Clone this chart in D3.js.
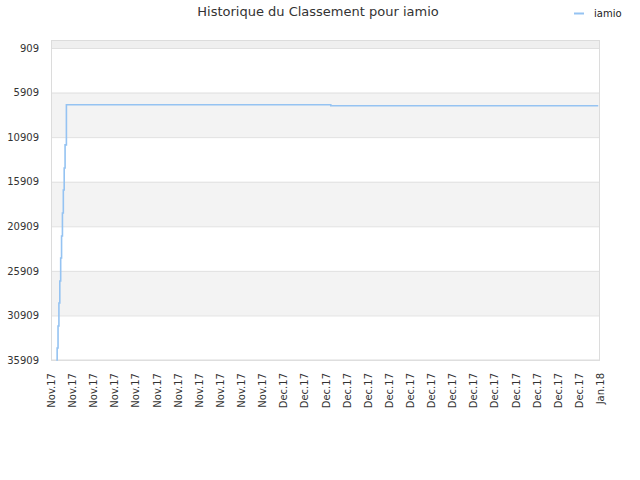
<!DOCTYPE html>
<html>
<head>
<meta charset="utf-8">
<script src="https://cdn.jsdelivr.net/npm/d3@7"></script>
<style>
  body { margin: 0; background: #fff; }
  svg { font-family: "DejaVu Sans", sans-serif; }
</style>
</head>
<body>
<div id="chart"></div>
<script>
// rank history for iamio (lower = better)
const times = [
  "2017-11-10T12:00", "2017-11-10T14:00", "2017-11-10T16:00", "2017-11-10T18:00",
  "2017-11-10T20:00", "2017-11-10T22:00", "2017-11-11T00:00", "2017-11-11T02:00",
  "2017-11-11T04:00", "2017-11-11T06:00", "2017-11-11T08:00", "2017-11-11T11:00",
  "2017-12-06T12:00", "2017-12-31T20:00"
];
const ranks = [
  35909, 34560, 32090, 29510, 27040, 24460, 22000, 19410,
  16830, 14370, 11780, 7270,
  7385, 7385
];
const yTicks = [909, 5909, 10909, 15909, 20909, 25909, 30909, 35909];
const seriesName = "iamio";
const title = "Historique du Classement pour iamio";

const width = 640, height = 480;
const margin = { top: 40, right: 40, bottom: 120, left: 51 };
const innerWidth = width - margin.left - margin.right;
const innerHeight = height - margin.top - margin.bottom;

const parse = d3.timeParse("%Y-%m-%dT%H:%M");
const data = times.map((t, i) => ({ date: parse(t), rank: ranks[i] }));

const svg = d3.select("#chart").append("svg")
  .attr("width", width)
  .attr("height", height);

const g = svg.append("g")
  .attr("transform", `translate(${margin.left},${margin.top})`);

const xStart = new Date(2017, 10, 10), xEnd = new Date(2018, 0, 1);
const x = d3.scaleTime().domain([xStart, xEnd]).range([0, innerWidth]);
const y = d3.scaleLinear().domain([10, 35909]).range([0, innerHeight]);

// alternating bands between ticks
const bandEdges = [y.domain()[0], ...yTicks];
for (let i = 0; i < bandEdges.length - 1; i++) {
  if (i % 2 === 0) {
    g.append("rect")
      .attr("x", 0).attr("width", innerWidth)
      .attr("y", y(bandEdges[i]))
      .attr("height", y(bandEdges[i + 1]) - y(bandEdges[i]))
      .attr("fill", i === 0 ? "#efefef" : "#f3f3f3");
  }
}

// grid lines
g.selectAll(".grid").data(yTicks).join("line")
  .attr("x1", 0).attr("x2", innerWidth)
  .attr("y1", d => y(d) + 0.5).attr("y2", d => y(d) + 0.5)
  .attr("stroke", "#e0e0e0");

// plot frame
g.append("rect")
  .attr("x", 0.5).attr("y", 0.5)
  .attr("width", innerWidth - 1).attr("height", innerHeight - 0.5)
  .attr("fill", "none").attr("stroke", "#dcdcdc");

// y axis
const yAxis = g.append("g")
  .call(d3.axisLeft(y).tickValues(yTicks).tickFormat(d3.format("d")).tickSize(0).tickPadding(12));
yAxis.select(".domain").remove();
yAxis.selectAll("text").attr("font-size", "10px").attr("fill", "#333")
  .attr("font-family", "DejaVu Sans");

// x axis, one tick every two days
const xTicks = d3.timeDay.range(xStart, d3.timeDay.offset(xEnd, 1), 2);
const xAxis = g.append("g")
  .attr("transform", `translate(0,${innerHeight})`)
  .call(d3.axisBottom(x).tickValues(xTicks).tickFormat(d3.timeFormat("%b.%y")).tickSize(0));
xAxis.select(".domain").remove();
xAxis.selectAll("text")
  .attr("font-size", "10px").attr("fill", "#333")
  .attr("font-family", "DejaVu Sans")
  .attr("text-anchor", "end")
  .attr("dy", "0.35em")
  .attr("x", 0).attr("y", 0)
  .attr("transform", "translate(0,13) rotate(-90)");

// line
const line = d3.line().x(d => x(d.date)).y(d => y(d.rank)).curve(d3.curveStepAfter);
g.append("path")
  .datum(data)
  .attr("fill", "none")
  .attr("stroke", "#95c3f2")
  .attr("stroke-width", 1.6)
  .attr("d", line);

// title
svg.append("text")
  .attr("x", 318).attr("y", 16)
  .attr("text-anchor", "middle")
  .attr("font-size", "13px")
  .attr("fill", "#333")
  .text(title);

// legend
svg.append("line")
  .attr("x1", 574).attr("x2", 584)
  .attr("y1", 13.5).attr("y2", 13.5)
  .attr("stroke", "#95c3f2").attr("stroke-width", 2);
svg.append("text")
  .attr("x", 594).attr("y", 17)
  .attr("font-size", "10px")
  .attr("fill", "#222")
  .text(seriesName);
</script>
</body>
</html>
